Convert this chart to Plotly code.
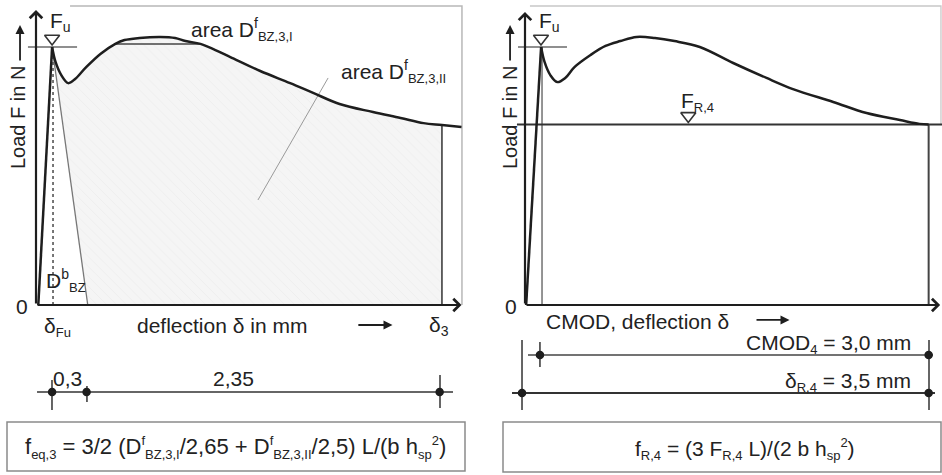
import plotly.graph_objects as go

W, H = 942, 475

# ---------------- data (schematic: deflection in mm, load normalised to F_u = 100) ----------------
# left panel
left_defl = [0.14, 0.17, 0.22, 0.28, 0.34, 0.43, 0.56, 0.69, 0.77, 0.90, 1.08, 1.21, 1.30, 1.43,
             1.56, 1.69, 1.95, 2.21, 2.41, 2.64, 2.93, 3.17, 3.37, 3.53, 3.70]
left_load = [100, 94.2, 89.1, 86.0, 87.6, 91.9, 97.3, 101.2, 102.7, 103.5, 103.9, 103.5, 102.3, 101.2,
             98.8, 96.1, 90.7, 86.0, 82.2, 77.9, 74.8, 72.5, 70.5, 69.8, 69.0]
left_load_start = [0.02, 0]          # start of loading branch (deflection, load)
left_delta_Fu = 0.14
left_unload_end = 0.45
left_delta_3 = 3.53
left_chord_I = [0.69, 1.43]          # chord separating area I / area II
left_chord_load = 101.2
left_dim_points = [0.14, 0.44, 3.51]  # δ_Fu, δ_Fu+0.3, δ_3
left_dim_labels = ["0,3", "2,35"]

# right panel
right_defl = [0.14, 0.17, 0.22, 0.28, 0.35, 0.43, 0.57, 0.70, 0.83, 0.97, 1.13, 1.30, 1.52, 1.81,
              2.10, 2.33, 2.68, 2.97, 3.26, 3.43, 3.51]
right_load = [100, 94.2, 89.1, 86.4, 88.0, 92.2, 96.9, 100.4, 102.3, 103.9, 103.5, 102.3, 100.0, 93.8,
              88.0, 83.7, 78.7, 74.4, 71.7, 70.2, 70.0]
right_load_start = [0.01, 0]
right_delta_Fu = 0.148
F_R4 = 70.0
F_R4_marker_defl = 1.42
right_delta_R4 = 3.51
cmod_start = 0.13
delta_start = -0.026

F_u = 100

# ---------------- helpers ----------------
INK = "#1e1e1e"
GREY = "#6a6a6a"
FONT = "Liberation Sans, Arial, sans-serif"
FS = 21

def P(px, py):
    return px / W, 1 - py / H

def sub(s, size=13):
    return f'<sub><span style="font-size:{size}px">{s}</span></sub>'

def sup(s, size=13):
    return f'<sup><span style="font-size:{size}px">{s}</span></sup>'

fig = go.Figure()

def line(x, y, color=INK, width=2, dash="solid", xa="x", ya="y", shape="linear", **kw):
    fig.add_trace(go.Scatter(x=x, y=y, mode="lines", xaxis=xa, yaxis=ya, hoverinfo="skip",
                             line=dict(color=color, width=width, dash=dash, shape=shape), **kw))

def dots(x, y, xa="x", ya="y", size=7, symbol="circle", color=INK, lw=1.5):
    fig.add_trace(go.Scatter(x=x, y=y, mode="markers", xaxis=xa, yaxis=ya, hoverinfo="skip",
                             marker=dict(size=size, symbol=symbol, color=color,
                                         line=dict(color=color, width=lw))))

# ================= LEFT PANEL =================
# shaded area under curve (D^f_BZ,3): baseline (unloading line + axis), then curve filled to it
line([left_defl[0], left_unload_end, left_delta_3], [left_load[0], 0, 0], color="rgba(0,0,0,0)", width=0)
cx = [d for d in left_defl if d <= left_delta_3]
cy = [l for d, l in zip(left_defl, left_load) if d <= left_delta_3]
fig.add_trace(go.Scatter(x=cx, y=cy, mode="lines", fill="tonexty", xaxis="x", yaxis="y",
                         line=dict(width=0, color="rgba(0,0,0,0)", shape="spline"),
                         fillcolor="#f2f2f2", hoverinfo="skip",
                         fillpattern=dict(shape="\\", fgcolor="#e4e4e4", bgcolor="#f5f5f5", size=7, solidity=0.12)))

# frame
top_y = 115.9
line([0.296, 3.704, 3.704], [top_y, top_y, 0], color="#b8b8b8", width=1.5)
# unloading line
line([left_delta_Fu, left_unload_end], [F_u, 0], color="#777", width=1.3)
# dotted δ_Fu line
line([0.148, 0.148], [0, F_u - 2], color="#555", width=1.6, dash="dot")
# F_u level
line([-0.07, 0.357], [F_u, F_u], color=GREY, width=1.5)
# leader line for area II
line([2.54, 1.93], [88.0, 40.7], color="#9a9a9a", width=1)
# δ_3 vertical
line([left_delta_3, left_delta_3], [0, left_load[left_defl.index(3.53)]], color="#333", width=1.5)
# chord of area I
line(left_chord_I, [left_chord_load, left_chord_load], color="#444", width=1.5)
# loading branch
line([left_load_start[0], left_defl[0]], [left_load_start[1], left_load[0]], color=INK, width=2.5)
# post-peak curve
line(left_defl, left_load, color=INK, width=2.5, shape="spline")
# F_u marker
dots([left_delta_Fu], [103.3], symbol="triangle-down-open", size=13, color="#333", lw=1.6)

# dimension line
y_dim_l = -33.7
line([0.009, 3.626], [y_dim_l, y_dim_l], color="#333", width=1.5)
line([0.139, 0.139, None, 0.443, 0.443, None, 3.513, 3.513],
     [-29.1, -40.7, None, -31.4, -37.6, None, -27.1, -39.9], color="#333", width=1.5)
dots(left_dim_points, [y_dim_l] * 3, size=7)

# ================= RIGHT PANEL =================
line([0.043, 3.617, 3.617], [top_y, top_y, F_R4], color="#c8c8c8", width=1.3, xa="x2", ya="y2")
line([right_delta_Fu, right_delta_Fu], [0, F_u], color="#7a7a7a", width=1.6, xa="x2", ya="y2")
line([-0.061, 0.365], [F_u, F_u], color=GREY, width=1.5, xa="x2", ya="y2")
line([-0.07, 3.626], [F_R4, F_R4], color="#333", width=2, xa="x2", ya="y2")
line([right_delta_R4, right_delta_R4], [0, F_R4], color="#444", width=2, xa="x2", ya="y2")
line([right_load_start[0], right_defl[0]], [right_load_start[1], right_load[0]], color=INK, width=2.5,
     xa="x2", ya="y2")
line(right_defl, right_load, color=INK, width=2.5, shape="spline", xa="x2", ya="y2")
dots([0.139], [103.3], xa="x2", ya="y2", symbol="triangle-down-open", size=13, color="#333", lw=1.6)
dots([F_R4_marker_defl], [F_R4 + 3.3], xa="x2", ya="y2", symbol="triangle-down-open", size=13,
     color="#333", lw=1.6)

# dimension lines
y_dim_r1, y_dim_r2 = -19.4, -34.1
line([0.026, 3.548], [y_dim_r1, y_dim_r1], color="#444", width=1.5, xa="x2", ya="y2")
line([-0.113, 3.565], [y_dim_r2, y_dim_r2], color="#333", width=1.8, xa="x2", ya="y2")
line([delta_start, delta_start, None, 3.513, 3.513, None, cmod_start, cmod_start],
     [-13.6, -40.7, None, -13.6, -40.7, None, -14.3, -24.0], color="#333", width=1.5, xa="x2", ya="y2")
dots([cmod_start, right_delta_R4], [y_dim_r1, y_dim_r1], xa="x2", ya="y2", size=7)
dots([delta_start, right_delta_R4], [y_dim_r2, y_dim_r2], xa="x2", ya="y2", size=7)

# ---------------- annotations ----------------
ann = []

def arrow(x, y, ax, ay, xr="x", yr="y", w=2.2, head=4, size=1.1):
    ann.append(dict(x=x, y=y, ax=ax, ay=ay, xref=xr, yref=yr, axref=xr, ayref=yr, text="",
                    showarrow=True, arrowhead=head, arrowwidth=w, arrowsize=size, arrowcolor=INK))

# axes
arrow(0, 114.3, 0, 0)
arrow(3.70, 0, 0, 0)
arrow(0, 113.6, 0, 0, "x2", "y2")
arrow(3.61, 0, 0, 0, "x2", "y2")
# small arrows
arrow(-0.139, 108.5, -0.139, 94.2, w=1.8, head=2, size=1)
arrow(-0.130, 108.5, -0.130, 94.2, "x2", "y2", w=1.8, head=2, size=1)
arrow(3.10, -7.75, 2.79, -7.75, w=1.8, head=2, size=1)
arrow(2.30, -5.8, 2.00, -5.8, "x2", "y2", w=1.8, head=2, size=1)

def text(px, py, s, size=FS, xanchor="center", yanchor="middle", angle=0, color="#222"):
    x, y = P(px, py)
    ann.append(dict(x=x, y=y, xref="paper", yref="paper", text=s, showarrow=False,
                    xanchor=xanchor, yanchor=yanchor, textangle=angle,
                    font=dict(family=FONT, size=size, color=color)))

# left texts
text(48, 22, "F" + sub("u", 14), xanchor="left")
text(189, 30, "area D" + sup("f", 14) + sub("BZ,3,I"), xanchor="left")
text(339, 72, "area D" + sup("f", 14) + sub("BZ,3,II"), xanchor="left")
text(44, 280, "D" + sup("b", 14) + sub("BZ"), xanchor="left")
text(22, 306, "0")
text(18, 118, "Load F in N", size=20, angle=-90)
text(42, 327, "δ" + sub("Fu"), xanchor="left")
text(222, 325, "deflection δ in mm")
text(427, 326, "δ" + sub("3", 14), xanchor="left")
text(67, 378, left_dim_labels[0])
text(233, 378, left_dim_labels[1])
text(235, 447, "f" + sub("eq,3") + " = 3/2 (D" + sup("f") + sub("BZ,3,I") + "/2,65 + D" + sup("f")
     + sub("BZ,3,II") + "/2,5) L/(b h" + sub("sp") + sup("2") + ")", size=22)

# right texts
text(537, 22, "F" + sub("u", 14), xanchor="left")
text(679, 102, "F" + sub("R,4"), xanchor="left")
text(511, 306, "0")
text(510, 118, "Load F in N", size=20, angle=-90)
text(637, 321, "CMOD, deflection δ")
text(913, 344, "CMOD" + sub("4") + " = 3,0 mm", xanchor="right")
text(913, 382, "δ" + sub("R,4") + " = 3,5 mm", xanchor="right")
text(745, 449, "f" + sub("R,4") + " = (3 F" + sub("R,4") + " L)/(2 b h" + sub("sp") + sup("2") + ")")

# formula boxes
shapes = [
    dict(type="rect", xref="paper", yref="paper", x0=7 / W, x1=465 / W, y0=1 - 471 / H, y1=1 - 422 / H,
         line=dict(color="#8a8a8a", width=1.5)),
    dict(type="rect", xref="paper", yref="paper", x0=503 / W, x1=941 / W, y0=1 - 472 / H, y1=1 - 422 / H,
         line=dict(color="#8a8a8a", width=1.5)),
]

ax_common = dict(visible=False, showgrid=False, zeroline=False, fixedrange=True)
fig.update_layout(
    width=W, height=H, margin=dict(l=0, r=0, t=0, b=0),
    paper_bgcolor="white", plot_bgcolor="white", showlegend=False,
    xaxis=dict(domain=[0, 0.5], range=[-36 / 115, 435 / 115], **ax_common),
    yaxis=dict(domain=[0, 1], range=[-170 / 2.58, 305 / 2.58], **ax_common),
    xaxis2=dict(domain=[0.5, 1], range=[-54 / 115, 417 / 115], **ax_common),
    yaxis2=dict(domain=[0, 1], range=[-170 / 2.58, 305 / 2.58], anchor="x2", **ax_common),
    annotations=ann, shapes=shapes,
)

fig.write_html("out.html")
